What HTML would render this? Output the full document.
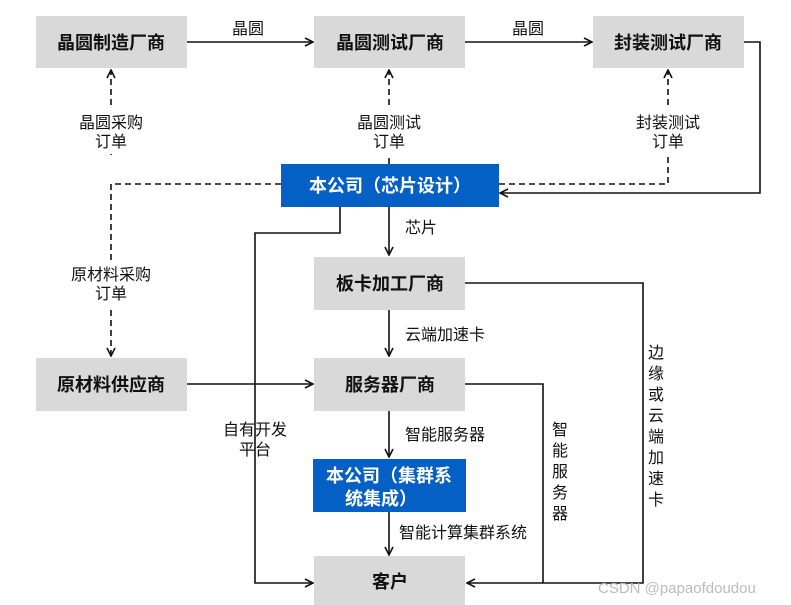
<!DOCTYPE html>
<html><head><meta charset="utf-8"><style>
html,body{margin:0;padding:0;background:#fff;}
svg{display:block;}
text{font-family:"Liberation Sans","Noto Sans CJK SC",sans-serif;}
.b{font-size:18px;font-weight:bold;fill:#111;}
.w{font-size:18px;font-weight:bold;fill:#fff;}
.l{font-size:16px;fill:#111;}
</style></head><body>
<svg width="791" height="605" viewBox="0 0 791 605" xmlns="http://www.w3.org/2000/svg">
<defs>
<marker id="a" viewBox="0 0 10 10" refX="9" refY="5" markerWidth="10" markerHeight="10" markerUnits="userSpaceOnUse" orient="auto">
<path d="M1,1 L9,5 L1,9" fill="none" stroke="#111" stroke-width="1.6"/></marker>
</defs>
<g fill="#d9d9d9">
<rect x="36" y="16" width="151" height="52"/>
<rect x="314" y="16" width="151" height="52"/>
<rect x="593" y="16" width="151" height="52"/>
<rect x="314" y="257" width="151" height="53"/>
<rect x="36" y="358" width="151" height="53"/>
<rect x="314" y="358" width="151" height="53"/>
<rect x="314" y="556" width="151" height="49"/>
</g>
<rect x="281" y="164" width="218" height="43" fill="#0560c6"/>
<rect x="313" y="459" width="153" height="53" fill="#0560c6"/>
<g class="b" text-anchor="middle">
<text x="111" y="49">晶圆制造厂商</text>
<text x="390" y="49">晶圆测试厂商</text>
<text x="668" y="49">封装测试厂商</text>
<text x="390" y="290">板卡加工厂商</text>
<text x="111" y="391">原材料供应商</text>
<text x="390" y="391">服务器厂商</text>
<text x="390" y="588">客户</text>
</g>
<g class="w" text-anchor="middle">
<text x="390" y="192">本公司（芯片设计）</text>
<text x="389" y="482">本公司（集群系</text>
<text x="381" y="505">统集成）</text>
</g>
<g stroke="#111" stroke-width="1.6" fill="none">
<line x1="187" y1="42" x2="313" y2="42" marker-end="url(#a)"/>
<line x1="465" y1="42" x2="592" y2="42" marker-end="url(#a)"/>
<polyline points="744,42 760,42 760,193 500,193" marker-end="url(#a)"/>
<line x1="389" y1="207" x2="389" y2="255" marker-end="url(#a)"/>
<line x1="389" y1="310" x2="389" y2="356" marker-end="url(#a)"/>
<line x1="187" y1="384" x2="313" y2="384" marker-end="url(#a)"/>
<line x1="389" y1="411" x2="389" y2="457" marker-end="url(#a)"/>
<line x1="389" y1="512" x2="389" y2="555" marker-end="url(#a)"/>
<polyline points="340,207 340,233 255,233 255,583 313,583" marker-end="url(#a)"/>
<polyline points="465,384 543,384 543,583"/>
<polyline points="465,283 643,283 643,583 467,583" marker-end="url(#a)"/>
</g>
<g stroke="#111" stroke-width="1.6" fill="none" stroke-dasharray="6,4">
<polyline points="281,184 111,184"/>
<line x1="111" y1="155" x2="111" y2="70" marker-end="url(#a)"/>
<line x1="111" y1="184" x2="111" y2="263"/>
<line x1="111" y1="310" x2="111" y2="356" marker-end="url(#a)"/>
<line x1="389" y1="164" x2="389" y2="155"/>
<line x1="389" y1="105" x2="389" y2="70" marker-end="url(#a)"/>
<polyline points="499,184 668,184 668,155"/>
<line x1="668" y1="105" x2="668" y2="70" marker-end="url(#a)"/>
</g>
<g stroke="none" fill="#fff">
<rect x="68" y="108" width="86" height="46"/>
<rect x="60" y="262" width="102" height="46"/>
<rect x="348" y="108" width="84" height="46"/>
<rect x="628" y="108" width="82" height="46"/>
</g>
<g class="l" text-anchor="middle">
<text x="248" y="34">晶圆</text>
<text x="528" y="34">晶圆</text>
<text x="111" y="128">晶圆采购</text>
<text x="111" y="147">订单</text>
<text x="389" y="128">晶圆测试</text>
<text x="389" y="147">订单</text>
<text x="668" y="128">封装测试</text>
<text x="668" y="147">订单</text>
<text x="111" y="280">原材料采购</text>
<text x="111" y="299">订单</text>
<text x="255" y="435">自有开发</text>
<text x="255" y="455">平台</text>
</g>
<g class="l">
<text x="405" y="233">芯片</text>
<text x="405" y="340">云端加速卡</text>
<text x="405" y="440">智能服务器</text>
<text x="399" y="538">智能计算集群系统</text>
</g>
<g class="l" text-anchor="middle">
<text x="560" y="435">智</text><text x="560" y="456">能</text><text x="560" y="477">服</text><text x="560" y="498">务</text><text x="560" y="519">器</text>
<text x="656" y="358">边</text><text x="656" y="379">缘</text><text x="656" y="400">或</text><text x="656" y="421">云</text><text x="656" y="442">端</text><text x="656" y="463">加</text><text x="656" y="484">速</text><text x="656" y="505">卡</text>
</g>
<text x="598" y="593" style="font-size:15px;fill:#bbb;">CSDN @papaofdoudou</text>
</svg>
</body></html>
